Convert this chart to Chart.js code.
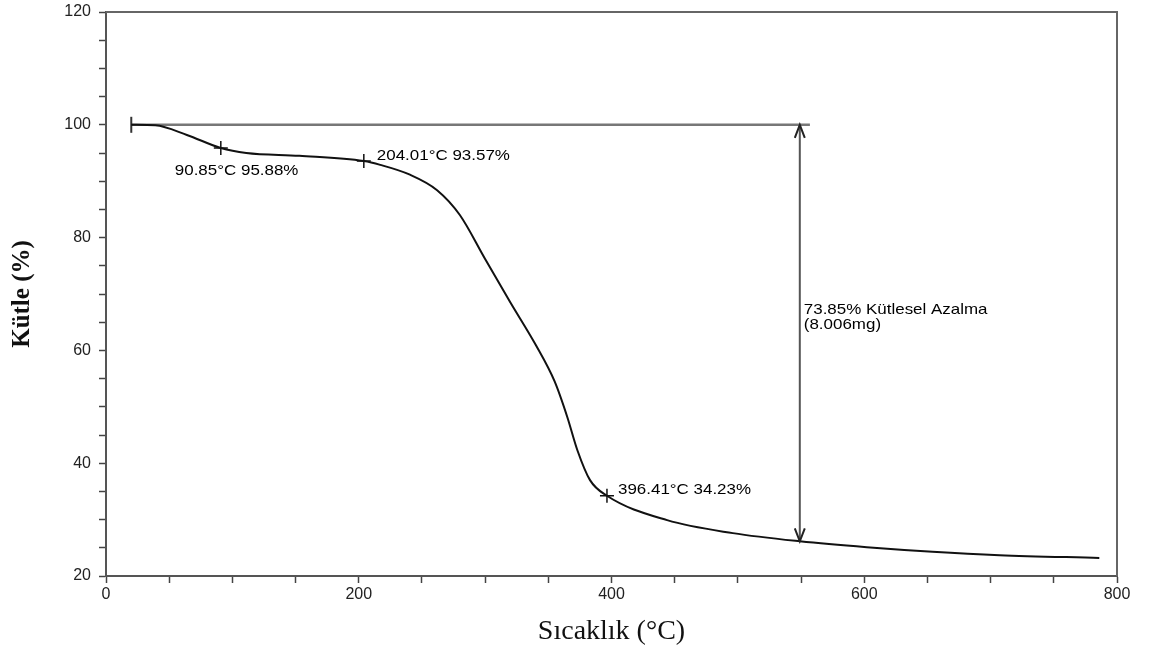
<!DOCTYPE html>
<html>
<head>
<meta charset="utf-8">
<script src="https://cdn.jsdelivr.net/npm/chart.js@4/dist/chart.umd.min.js"></script>
<style>
html, body { margin: 0; padding: 0; background: #fff; }
#wrap { width: 1152px; height: 652px; }
</style>
</head>
<body>
<div id="wrap"><canvas id="myChart"></canvas></div>
<script>
// TGA curve
var temps = [20, 39, 64, 90.85, 111, 153, 204.01, 217, 240, 262, 280, 300, 320, 340, 355, 365, 373, 383, 396.41, 444, 496, 549, 602, 654, 707, 786];
var mass = [100, 99.9, 98.2, 95.88, 95.0, 94.5, 93.57, 92.9, 91.2, 88.4, 84.0, 76.2, 68.5, 61.0, 54.5, 48.2, 42.3, 37.0, 34.23, 29.9, 27.6, 26.15, 25.1, 24.3, 23.7, 23.2];

var markerTemps = [90.85, 204.01, 396.41];
var markerMass = [95.88, 93.57, 34.23];
var markerLabels = ["90.85°C 95.88%", "204.01°C 93.57%", "396.41°C 34.23%"];

var refTemps = [20, 557];
var refMass = 100;
var lossTemp = 549;
var lossFrom = 100;
var lossTo = 26.15;
var lossLabel = ["73.85% Kütlesel Azalma", "(8.006mg)"];

var xTicks = [0, 200, 400, 600, 800];
var yTicks = [20, 40, 60, 80, 100, 120];

var curve = temps.map(function (t, i) { return { x: t, y: mass[i] }; });
var markers = markerTemps.map(function (t, i) { return { x: t, y: markerMass[i] }; });

// where each label sits relative to its marker (px)
var labelOffsets = [[-46, 23], [13, -5], [11, -6]];

// the source picture is a bit stretched sideways, so is its text
function stretchedText(c, txt, x, y) {
    c.save();
    c.translate(x, y);
    c.scale(1.13, 1);
    c.fillText(txt, 0, 0);
    c.restore();
}

var extras = {
    id: 'extras',
    beforeDatasetsDraw: function (chart) {
        var c = chart.ctx, a = chart.chartArea;
        c.save();
        c.strokeStyle = '#666';
        c.lineWidth = 2;
        c.beginPath();
        c.moveTo(a.left, a.top);
        c.lineTo(a.right, a.top);
        c.lineTo(a.right, a.bottom);
        c.stroke();
        c.restore();
    },
    afterDatasetsDraw: function (chart) {
        var c = chart.ctx;
        var xs = chart.scales.x, ys = chart.scales.y;
        c.save();
        // arrow heads
        var ax = xs.getPixelForValue(lossTemp);
        var top = ys.getPixelForValue(lossFrom);
        var bot = ys.getPixelForValue(lossTo);
        c.strokeStyle = '#222';
        c.lineWidth = 2;
        c.beginPath();
        c.moveTo(ax - 5, top + 13); c.lineTo(ax, top); c.lineTo(ax + 5, top + 13);
        c.moveTo(ax - 5, bot - 13); c.lineTo(ax, bot); c.lineTo(ax + 5, bot - 13);
        c.stroke();

        c.fillStyle = '#000';
        c.font = '15px "Liberation Sans", Arial, sans-serif';
        c.textBaseline = 'middle';
        c.textAlign = 'left';
        markerLabels.forEach(function (txt, i) {
            var px = xs.getPixelForValue(markerTemps[i]);
            var py = ys.getPixelForValue(markerMass[i]);
            stretchedText(c, txt, px + labelOffsets[i][0], py + labelOffsets[i][1]);
        });
        var mid = (top + bot) / 2;
        stretchedText(c, lossLabel[0], ax + 4, mid - 23);
        stretchedText(c, lossLabel[1], ax + 4, mid - 8);
        c.restore();
    }
};

var ctx = document.getElementById('myChart').getContext('2d');
var myChart = new Chart(ctx, {
    type: 'line',
    data: {
        datasets: [{
                label: 'Kütle',
                data: curve,
                borderColor: '#111',
                borderWidth: 2,
                pointRadius: 0,
                cubicInterpolationMode: 'monotone',
                fill: false
            },
            {
                label: 'ref',
                data: [{ x: refTemps[0], y: refMass }, { x: refTemps[1], y: refMass }],
                borderColor: '#777',
                borderWidth: 2.5,
                pointStyle: 'line',
                pointRadius: [8, 0],
                pointRotation: 90,
                pointBorderColor: '#333',
                pointBorderWidth: 2,
                fill: false
            },
            {
                label: 'loss',
                data: [{ x: lossTemp, y: lossFrom }, { x: lossTemp, y: lossTo }],
                borderColor: '#555',
                borderWidth: 2,
                pointRadius: 0,
                fill: false
            },
            {
                label: 'markers',
                data: markers,
                showLine: false,
                pointStyle: 'cross',
                pointRadius: 7,
                pointBorderColor: '#111',
                pointBorderWidth: 1.5
            }
        ]
    },
    options: {
        responsive: true,
        maintainAspectRatio: false,
        animation: false,
        layout: { padding: { left: 0, right: 35, top: 12, bottom: 0 } },
        plugins: {
            legend: { display: false },
            tooltip: { enabled: false }
        },
        scales: {
            x: {
                type: 'linear',
                min: 0,
                max: 800,
                afterFit: function (s) { s.height = 76; },
                ticks: {
                    stepSize: 50,
                    autoSkip: false,
                    maxRotation: 0,
                    padding: 2,
                    color: '#222',
                    font: { family: '"Liberation Sans", Arial, sans-serif', size: 16 },
                    callback: function (v) { return xTicks.indexOf(v) >= 0 ? v : ''; }
                },
                grid: { drawOnChartArea: false, tickLength: 7, tickColor: '#444', tickWidth: 1.5 },
                border: { color: '#555', width: 2 },
                title: {
                    display: true,
                    text: 'Sıcaklık (°C)',
                    color: '#111',
                    padding: { top: 4, bottom: 4 },
                    font: { family: '"Liberation Serif", "Times New Roman", serif', size: 28 }
                }
            },
            y: {
                min: 20,
                max: 120,
                afterFit: function (s) {
                    s.width = 106;
                    s.paddingTop = 0;
                    s.paddingBottom = 0;
                },
                ticks: {
                    stepSize: 5,
                    autoSkip: false,
                    padding: 8,
                    color: '#222',
                    font: { family: '"Liberation Sans", Arial, sans-serif', size: 16 },
                    callback: function (v) { return yTicks.indexOf(v) >= 0 ? v : ''; }
                },
                grid: { drawOnChartArea: false, tickLength: 7, tickColor: '#444', tickWidth: 1.5 },
                border: { color: '#555', width: 2 },
                title: {
                    display: true,
                    text: 'Kütle (%)',
                    color: '#111',
                    padding: { top: 8, bottom: 8 },
                    font: { family: '"Liberation Serif", "Times New Roman", serif', size: 25, weight: 'bold' }
                }
            }
        }
    },
    plugins: [extras]
});
</script>
</body>
</html>
